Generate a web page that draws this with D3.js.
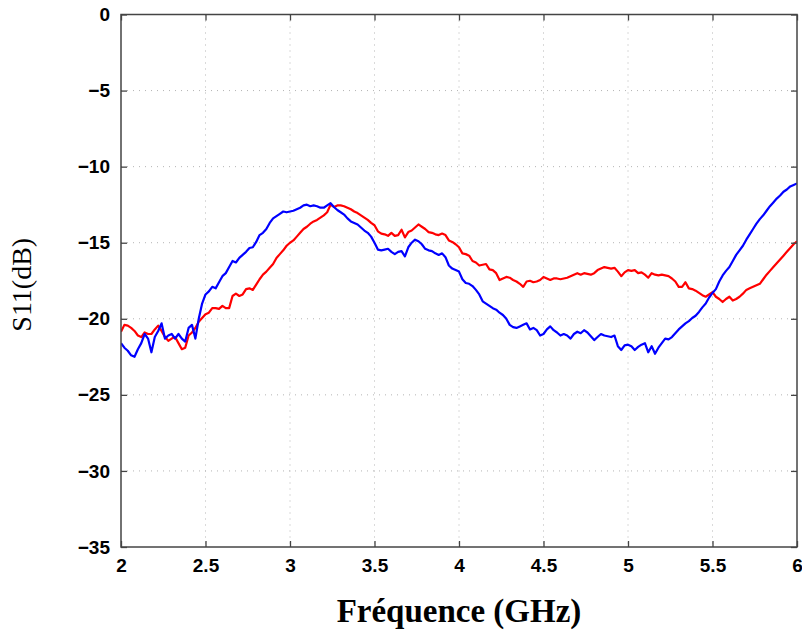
<!DOCTYPE html>
<html>
<head>
<meta charset="utf-8">
<script src="https://cdn.jsdelivr.net/npm/d3@7/dist/d3.min.js"></script>
<style>
  html, body { margin: 0; padding: 0; background: #fff; }
  svg { display: block; }
</style>
</head>
<body>
<svg id="chart" width="802" height="636"></svg>
<script>
const freq = [
2.00,2.02,2.04,2.06,2.08,2.10,2.12,2.14,2.16,2.18,2.20,2.22,2.24,2.26,2.28,2.30,2.32,2.34,2.36,2.38,
2.40,2.42,2.44,2.46,2.48,2.50,2.52,2.54,2.56,2.58,2.60,2.62,2.64,2.66,2.68,2.70,2.72,2.74,2.76,2.78,
2.80,2.82,2.84,2.86,2.88,2.90,2.92,2.94,2.96,2.98,3.00,3.02,3.04,3.06,3.08,3.10,3.12,3.14,3.16,3.18,
3.20,3.22,3.24,3.26,3.28,3.30,3.32,3.34,3.36,3.38,3.40,3.42,3.44,3.46,3.48,3.50,3.52,3.54,3.56,3.58,
3.60,3.62,3.64,3.66,3.68,3.70,3.72,3.74,3.76,3.78,3.80,3.82,3.84,3.86,3.88,3.90,3.92,3.94,3.96,3.98,
4.00,4.02,4.04,4.06,4.08,4.10,4.12,4.14,4.16,4.18,4.20,4.22,4.24,4.26,4.28,4.30,4.32,4.34,4.36,4.38,
4.40,4.42,4.44,4.46,4.48,4.50,4.52,4.54,4.56,4.58,4.60,4.62,4.64,4.66,4.68,4.70,4.72,4.74,4.76,4.78,
4.80,4.82,4.84,4.86,4.88,4.90,4.92,4.94,4.96,4.98,5.00,5.02,5.04,5.06,5.08,5.10,5.12,5.14,5.16,5.18,
5.20,5.22,5.24,5.26,5.28,5.30,5.32,5.34,5.36,5.38,5.40,5.42,5.44,5.46,5.48,5.50,5.52,5.54,5.56,5.58,
5.60,5.62,5.64,5.66,5.68,5.70,5.72,5.74,5.76,5.78,5.80,5.82,5.84,5.86,5.88,5.90,5.92,5.94,5.96,5.98,
6.00];

const blueS11 = [
-21.6,-21.9,-22.1,-22.4,-22.5,-22.0,-21.6,-21.0,-21.3,-22.2,-21.2,-20.8,-20.3,-21.3,-21.1,-21.0,-21.3,-21.0,-21.3,-21.5,
-20.6,-20.4,-21.3,-20.0,-19.0,-18.4,-18.2,-17.9,-18.0,-17.6,-17.2,-17.0,-16.6,-16.2,-16.3,-16.0,-15.8,-15.6,-15.35,-15.3,
-14.95,-14.5,-14.35,-14.1,-13.7,-13.4,-13.25,-13.1,-12.95,-13.0,-12.95,-12.9,-12.8,-12.7,-12.55,-12.5,-12.6,-12.55,-12.6,-12.7,
-12.7,-12.55,-12.4,-12.65,-12.85,-13.0,-13.15,-13.4,-13.6,-13.7,-13.8,-14.0,-14.2,-14.35,-14.6,-15.0,-15.45,-15.5,-15.45,-15.4,
-15.6,-15.75,-15.6,-15.55,-15.9,-15.3,-15.0,-14.8,-14.9,-15.1,-15.4,-15.5,-15.55,-15.7,-15.8,-15.7,-15.95,-16.5,-16.7,-16.8,
-16.9,-17.4,-17.65,-17.7,-17.85,-18.1,-18.4,-18.85,-19.0,-19.15,-19.3,-19.4,-19.6,-19.75,-20.0,-20.4,-20.55,-20.6,-20.5,-20.4,
-20.3,-20.7,-20.6,-20.75,-21.1,-21.0,-20.7,-20.5,-20.75,-20.9,-21.1,-21.0,-21.1,-21.3,-21.0,-20.85,-20.95,-20.75,-20.9,-21.15,
-21.4,-21.2,-21.0,-21.1,-21.15,-21.2,-21.1,-21.8,-22.05,-21.75,-21.7,-21.8,-22.05,-21.85,-21.7,-21.6,-22.2,-21.8,-22.3,-21.9,
-21.6,-21.3,-21.35,-21.2,-20.95,-20.7,-20.5,-20.3,-20.15,-19.95,-19.8,-19.55,-19.25,-19.0,-18.6,-18.3,-18.05,-17.55,-17.15,-16.85,
-16.6,-16.2,-15.8,-15.5,-15.2,-14.8,-14.45,-14.1,-13.75,-13.45,-13.2,-12.9,-12.6,-12.35,-12.1,-11.9,-11.65,-11.5,-11.3,-11.2,
-11.1];

const redS11 = [
-20.85,-20.4,-20.45,-20.6,-20.8,-21.1,-21.2,-20.9,-21.0,-21.0,-20.7,-20.45,-20.8,-21.2,-21.45,-21.3,-21.2,-21.6,-22.0,-21.9,
-21.1,-20.9,-20.6,-20.2,-19.95,-19.7,-19.6,-19.3,-19.3,-19.35,-19.15,-19.3,-19.3,-18.5,-18.35,-18.5,-18.4,-18.05,-18.0,-18.1,
-17.75,-17.4,-17.1,-16.9,-16.65,-16.4,-16.0,-15.75,-15.5,-15.2,-15.0,-14.85,-14.6,-14.35,-14.1,-13.95,-13.75,-13.6,-13.5,-13.35,
-13.2,-13.0,-12.5,-12.65,-12.55,-12.55,-12.6,-12.7,-12.8,-12.95,-13.05,-13.2,-13.35,-13.5,-13.7,-13.85,-14.25,-14.4,-14.45,-14.55,
-14.35,-14.55,-14.5,-14.15,-14.65,-14.3,-14.2,-14.0,-13.8,-13.95,-14.1,-14.3,-14.35,-14.45,-14.5,-14.4,-14.5,-14.85,-14.95,-15.1,
-15.3,-15.7,-15.75,-15.85,-16.2,-16.3,-16.5,-16.45,-16.4,-16.75,-16.8,-17.0,-17.45,-17.35,-17.25,-17.3,-17.45,-17.55,-17.7,-17.9,
-17.55,-17.5,-17.6,-17.55,-17.45,-17.25,-17.35,-17.45,-17.35,-17.35,-17.4,-17.35,-17.3,-17.2,-17.1,-17.0,-17.1,-17.0,-17.05,-17.1,
-17.0,-16.8,-16.7,-16.6,-16.65,-16.7,-16.65,-16.9,-17.2,-16.95,-16.8,-16.85,-16.8,-17.0,-16.95,-17.1,-17.3,-17.0,-17.1,-17.15,
-17.1,-17.15,-17.2,-17.35,-17.55,-17.9,-17.9,-17.6,-18.0,-18.05,-18.15,-18.3,-18.45,-18.55,-18.4,-18.25,-18.55,-18.7,-18.9,-18.7,
-18.55,-18.8,-18.7,-18.55,-18.35,-18.1,-18.0,-17.9,-17.8,-17.7,-17.4,-17.1,-16.85,-16.6,-16.35,-16.1,-15.85,-15.6,-15.35,-15.1,
-14.9];

const xTicks = [2, 2.5, 3, 3.5, 4, 4.5, 5, 5.5, 6];
const xTickLabels = ["2", "2.5", "3", "3.5", "4", "4.5", "5", "5.5", "6"];
const yTicks = [0, -5, -10, -15, -20, -25, -30, -35];
const yTickLabels = ["0", "\u22125", "\u221210", "\u221215", "\u221220", "\u221225", "\u221230", "\u221235"];
const seriesColors = ["#ff0000", "#0000ff"];
const xTitle = "Fréquence (GHz)";
const yTitle = "S11(dB)";

const svg = d3.select("#chart");
const L = 121, R = 797, T = 14.5, B = 547;
const x = d3.scaleLinear().domain([2, 6]).range([L, R]);
const y = d3.scaleLinear().domain([-35, 0]).range([B, T]);

// grid
const grid = svg.append("g");
grid.selectAll("line.gx").data(xTicks.slice(1, -1)).enter().append("line")
  .attr("x1", d => x(d)).attr("x2", d => x(d)).attr("y1", T).attr("y2", B)
  .attr("stroke", "#b4b4b4").attr("stroke-width", 1).attr("stroke-dasharray", "1,5");
grid.selectAll("line.gy").data(yTicks.slice(1, -1)).enter().append("line")
  .attr("x1", L).attr("x2", R).attr("y1", d => y(d)).attr("y2", d => y(d))
  .attr("stroke", "#b4b4b4").attr("stroke-width", 1).attr("stroke-dasharray", "1,5");

// lines
svg.append("clipPath").attr("id", "clip").append("rect")
  .attr("x", L).attr("y", T).attr("width", R - L).attr("height", B - T);
const line = d3.line().x(d => x(d[0])).y(d => y(d[1]));
const series = [redS11, blueS11];
series.forEach((vals, i) => {
  svg.append("path")
    .datum(freq.map((f, j) => [f, vals[j]]))
    .attr("clip-path", "url(#clip)")
    .attr("fill", "none")
    .attr("stroke", seriesColors[i])
    .attr("stroke-width", 2.2)
    .attr("stroke-linejoin", "round")
    .attr("d", line);
});

// axes with inner ticks (MATLAB style)
const tickLen = 6;
const font = "'Liberation Sans', Arial, Helvetica, sans-serif";
const axB = svg.append("g").attr("transform", `translate(0,${B})`)
  .call(d3.axisBottom(x).tickValues(xTicks).tickFormat((d, i) => xTickLabels[i]).tickSizeInner(-tickLen).tickSizeOuter(0).tickPadding(12));
const axT = svg.append("g").attr("transform", `translate(0,${T})`)
  .call(d3.axisTop(x).tickValues(xTicks).tickFormat("").tickSizeInner(-tickLen).tickSizeOuter(0));
const axL = svg.append("g").attr("transform", `translate(${L},0)`)
  .call(d3.axisLeft(y).tickValues(yTicks).tickFormat((d, i) => yTickLabels[i]).tickSizeInner(-tickLen).tickSizeOuter(0).tickPadding(11));
const axR = svg.append("g").attr("transform", `translate(${R},0)`)
  .call(d3.axisRight(y).tickValues(yTicks).tickFormat("").tickSizeInner(-tickLen).tickSizeOuter(0));
[axB, axT, axL, axR].forEach(a => {
  a.select(".domain").remove();
  a.selectAll(".tick line").attr("stroke", "#444").attr("stroke-width", 1.3);
  a.selectAll("text").attr("font-family", font).attr("font-weight", "bold")
    .attr("font-size", 19).attr("fill", "#000");
});

// frame
svg.append("rect").attr("x", L).attr("y", T).attr("width", R - L).attr("height", B - T)
  .attr("fill", "none").attr("stroke", "#444").attr("stroke-width", 1.5);

// titles
svg.append("text").attr("x", (L + R) / 2).attr("y", 622)
  .attr("text-anchor", "middle")
  .attr("font-family", "'Liberation Serif', 'Times New Roman', serif")
  .attr("font-weight", "bold").attr("font-size", 33).attr("fill", "#000")
  .text(xTitle);
svg.append("text")
  .attr("transform", `translate(31,${(T + B) / 2 + 4}) rotate(-90)`)
  .attr("text-anchor", "middle")
  .attr("font-family", "'Liberation Serif', 'Times New Roman', serif")
  .attr("font-size", 28).attr("fill", "#000")
  .text(yTitle);
</script>
</body>
</html>
